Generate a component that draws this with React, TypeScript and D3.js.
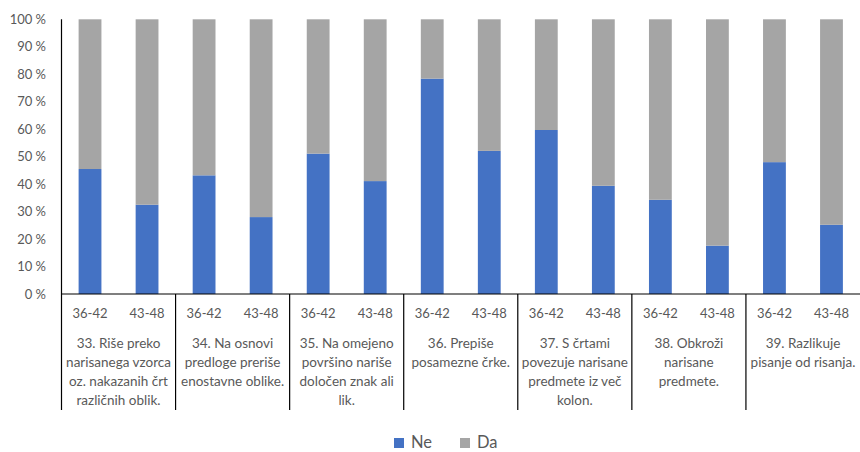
import React from "react";
import * as d3 from "d3";

// Items (each label split into the lines it is shown on)
const items: string[][] = [
  ["33. Riše preko", "narisanega vzorca", "oz. nakazanih črt", "različnih oblik."],
  ["34. Na osnovi", "predloge preriše", "enostavne oblike."],
  ["35. Na omejeno", "površino nariše", "določen znak ali", "lik."],
  ["36. Prepiše", "posamezne črke."],
  ["37. S črtami", "povezuje narisane", "predmete iz več", "kolon."],
  ["38. Obkroži", "narisane", "predmete."],
  ["39. Razlikuje", "pisanje od risanja."],
];
const itemKeys = ["33", "34", "35", "36", "37", "38", "39"];
const ageGroups = ["36-42", "43-48"];

// Share of "Ne" answers (%) per item, for each age group
const neYounger = [45.5, 43.2, 51.1, 78.4, 59.7, 34.3, 48.0];
const neOlder = [32.5, 28.0, 41.1, 52.1, 39.4, 17.6, 25.2];

const seriesNames = ["Ne", "Da"];
const yTicks = [0, 10, 20, 30, 40, 50, 60, 70, 80, 90, 100];

const W = 860;
const H = 452;
const FONT = "Lato, 'Open Sans', sans-serif";
const TEXT = "#595959";
const COLORS = ["#4472C4", "#A5A5A5"];

export default function App() {
  const left = 61.5;
  const right = 860;
  const top = 19.3;
  const bottom = 294;

  const y = d3.scaleLinear().domain([0, 100]).range([bottom, top]);
  const gx = d3.scaleBand<string>().domain(itemKeys).range([left, right]).padding(0);
  const ax = d3
    .scaleBand<string>()
    .domain(ageGroups)
    .range([0, gx.bandwidth()])
    .paddingInner(0.6)
    .paddingOuter(0.3);

  const rows = itemKeys.flatMap((k, i) =>
    ageGroups.map((a, j) => {
      const ne = j === 0 ? neYounger[i] : neOlder[i];
      return { item: k, age: a, Ne: ne, Da: 100 - ne };
    })
  );
  const stacked = d3.stack<any>().keys(seriesNames)(rows);

  const sepBottom = 410;

  return (
    <svg
      width={W}
      height={H}
      style={{ position: "absolute", left: 0, top: 0, background: "#fff" }}
      fontFamily={FONT}
    >
      {/* stacked bars */}
      {stacked.map((s, si) =>
        s.map((d, i) => {
          const r = rows[i];
          const x0 = (gx(r.item) as number) + (ax(r.age) as number);
          return (
            <rect
              key={`${si}-${i}`}
              x={x0}
              y={y(d[1])}
              width={ax.bandwidth()}
              height={y(d[0]) - y(d[1])}
              fill={COLORS[si]}
            />
          );
        })
      )}

      {/* y axis */}
      <line x1={left} x2={left} y1={top} y2={bottom} stroke="#000" strokeWidth={1.2} />
      {yTicks.map((t) => (
        <text
          key={t}
          x={46}
          y={y(t)}
          dy="0.35em"
          textAnchor="end"
          fontSize={13}
          fill={TEXT}
        >
          {`${t} %`}
        </text>
      ))}

      {/* x axis with grouped category labels */}
      <line x1={left} x2={right} y1={bottom} y2={bottom} stroke="#000" strokeWidth={1.2} />
      {itemKeys.map((k) => (
        <line
          key={`sep-${k}`}
          x1={gx(k) as number}
          x2={gx(k) as number}
          y1={bottom}
          y2={sepBottom}
          stroke="#000"
          strokeWidth={1.2}
        />
      ))}
      {itemKeys.map((k) =>
        ageGroups.map((a) => (
          <text
            key={`${k}-${a}`}
            x={(gx(k) as number) + (ax(a) as number) + ax.bandwidth() / 2}
            y={318}
            textAnchor="middle"
            fontSize={13}
            fill={TEXT}
          >
            {a}
          </text>
        ))
      )}
      {itemKeys.map((k, i) => (
        <text
          key={`lab-${k}`}
          textAnchor="middle"
          fontSize={13.5}
          fill={TEXT}
        >
          {items[i].map((line, li) => (
            <tspan key={li} x={(gx(k) as number) + gx.bandwidth() / 2} y={348 + li * 19}>
              {line}
            </tspan>
          ))}
        </text>
      ))}

      {/* legend */}
      {seriesNames.map((n, i) => {
        const lx = 394 + i * 66;
        return (
          <g key={n}>
            <rect x={lx} y={438} width={10} height={10} fill={COLORS[i]} />
            <text x={lx + 17} y={448} fontSize={16.5} fill={TEXT}>
              {n}
            </text>
          </g>
        );
      })}
    </svg>
  );
}
